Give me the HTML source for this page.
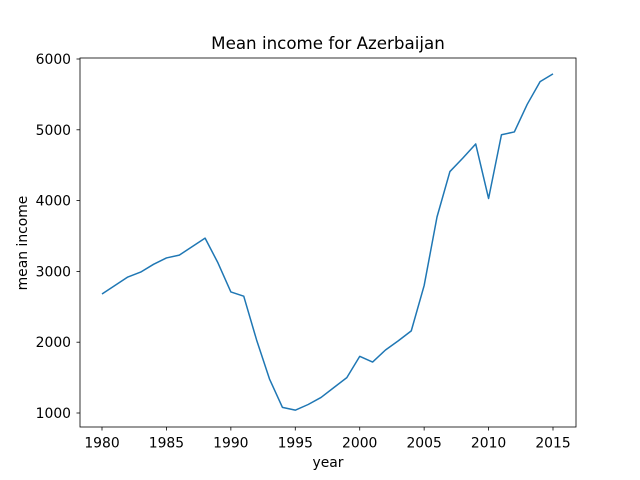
<!DOCTYPE html>
<html><head><meta charset="utf-8"><style>
html,body{margin:0;padding:0;background:#fff;}
svg{display:block;font-family:"DejaVu Sans","Liberation Sans",sans-serif;}
</style></head><body>
<svg id="chart" width="640" height="480" viewBox="0 0 640 480">
<rect x="0" y="0" width="640" height="480" fill="#fff"/>
<text x="328" y="49" text-anchor="middle" font-size="16.7" fill="#000">Mean income for Azerbaijan</text>
<g id="xt"></g>
<g id="yt"></g>
<path id="line" fill="none" stroke="#1f77b4" stroke-width="1.5" stroke-linejoin="round"/>
<rect x="80" y="58" width="496" height="369" fill="none" stroke="#000" stroke-width="0.8"/>
<text x="328" y="467" text-anchor="middle" font-size="13.9">year</text>
<text transform="translate(27,243) rotate(-90)" text-anchor="middle" font-size="13.9">mean income</text>
</svg>
<script>
const years=[1980,1981,1982,1983,1984,1985,1986,1987,1988,1989,1990,1991,1992,1993,1994,1995,1996,1997,1998,1999,2000,2001,2002,2003,2004,2005,2006,2007,2008,2009,2010,2011,2012,2013,2014,2015];
const income=[2680,2800,2920,2990,3100,3190,3230,3350,3470,3120,2710,2650,2030,1480,1080,1040,1120,1220,1360,1500,1800,1720,1890,2020,2160,2800,3770,4410,4600,4800,4030,4930,4970,5360,5680,5790];
const xTicks=[1980,1985,1990,1995,2000,2005,2010,2015];
const yTicks=[1000,2000,3000,4000,5000,6000];
const NS="http://www.w3.org/2000/svg";
function X(v){return 102+(v-1980)*(451/35);}
function Y(v){return 413-(v-1000)*(354/5000);}
let d="";
years.forEach((yr,i)=>{d+=(i?"L":"M")+X(yr).toFixed(2)+","+Y(income[i]).toFixed(2);});
document.getElementById("line").setAttribute("d",d);
const xt=document.getElementById("xt"),yt=document.getElementById("yt");
xTicks.forEach(t=>{
  const l=document.createElementNS(NS,"line");
  l.setAttribute("x1",X(t));l.setAttribute("x2",X(t));l.setAttribute("y1",427);l.setAttribute("y2",430.5);l.setAttribute("stroke","#000");l.setAttribute("stroke-width","0.8");
  
  
  xt.appendChild(l);
  const s=document.createElementNS(NS,"text");
  s.setAttribute("x",X(t));s.setAttribute("y",447.5);s.setAttribute("text-anchor","middle");s.setAttribute("font-size","13.9");
  s.textContent=t;
  
  
  xt.appendChild(s);
});
yTicks.forEach(t=>{
  const l=document.createElementNS(NS,"line");
  l.setAttribute("x1",76.5);l.setAttribute("x2",80);l.setAttribute("y1",Y(t));l.setAttribute("y2",Y(t));l.setAttribute("stroke","#000");l.setAttribute("stroke-width","0.8");
  
  
  yt.appendChild(l);
  const s=document.createElementNS(NS,"text");
  s.setAttribute("x",71);s.setAttribute("y",Y(t)+5);s.setAttribute("text-anchor","end");s.setAttribute("font-size","13.9");
  s.textContent=t;
  
  
  yt.appendChild(s);
});
</script>
</body></html>
